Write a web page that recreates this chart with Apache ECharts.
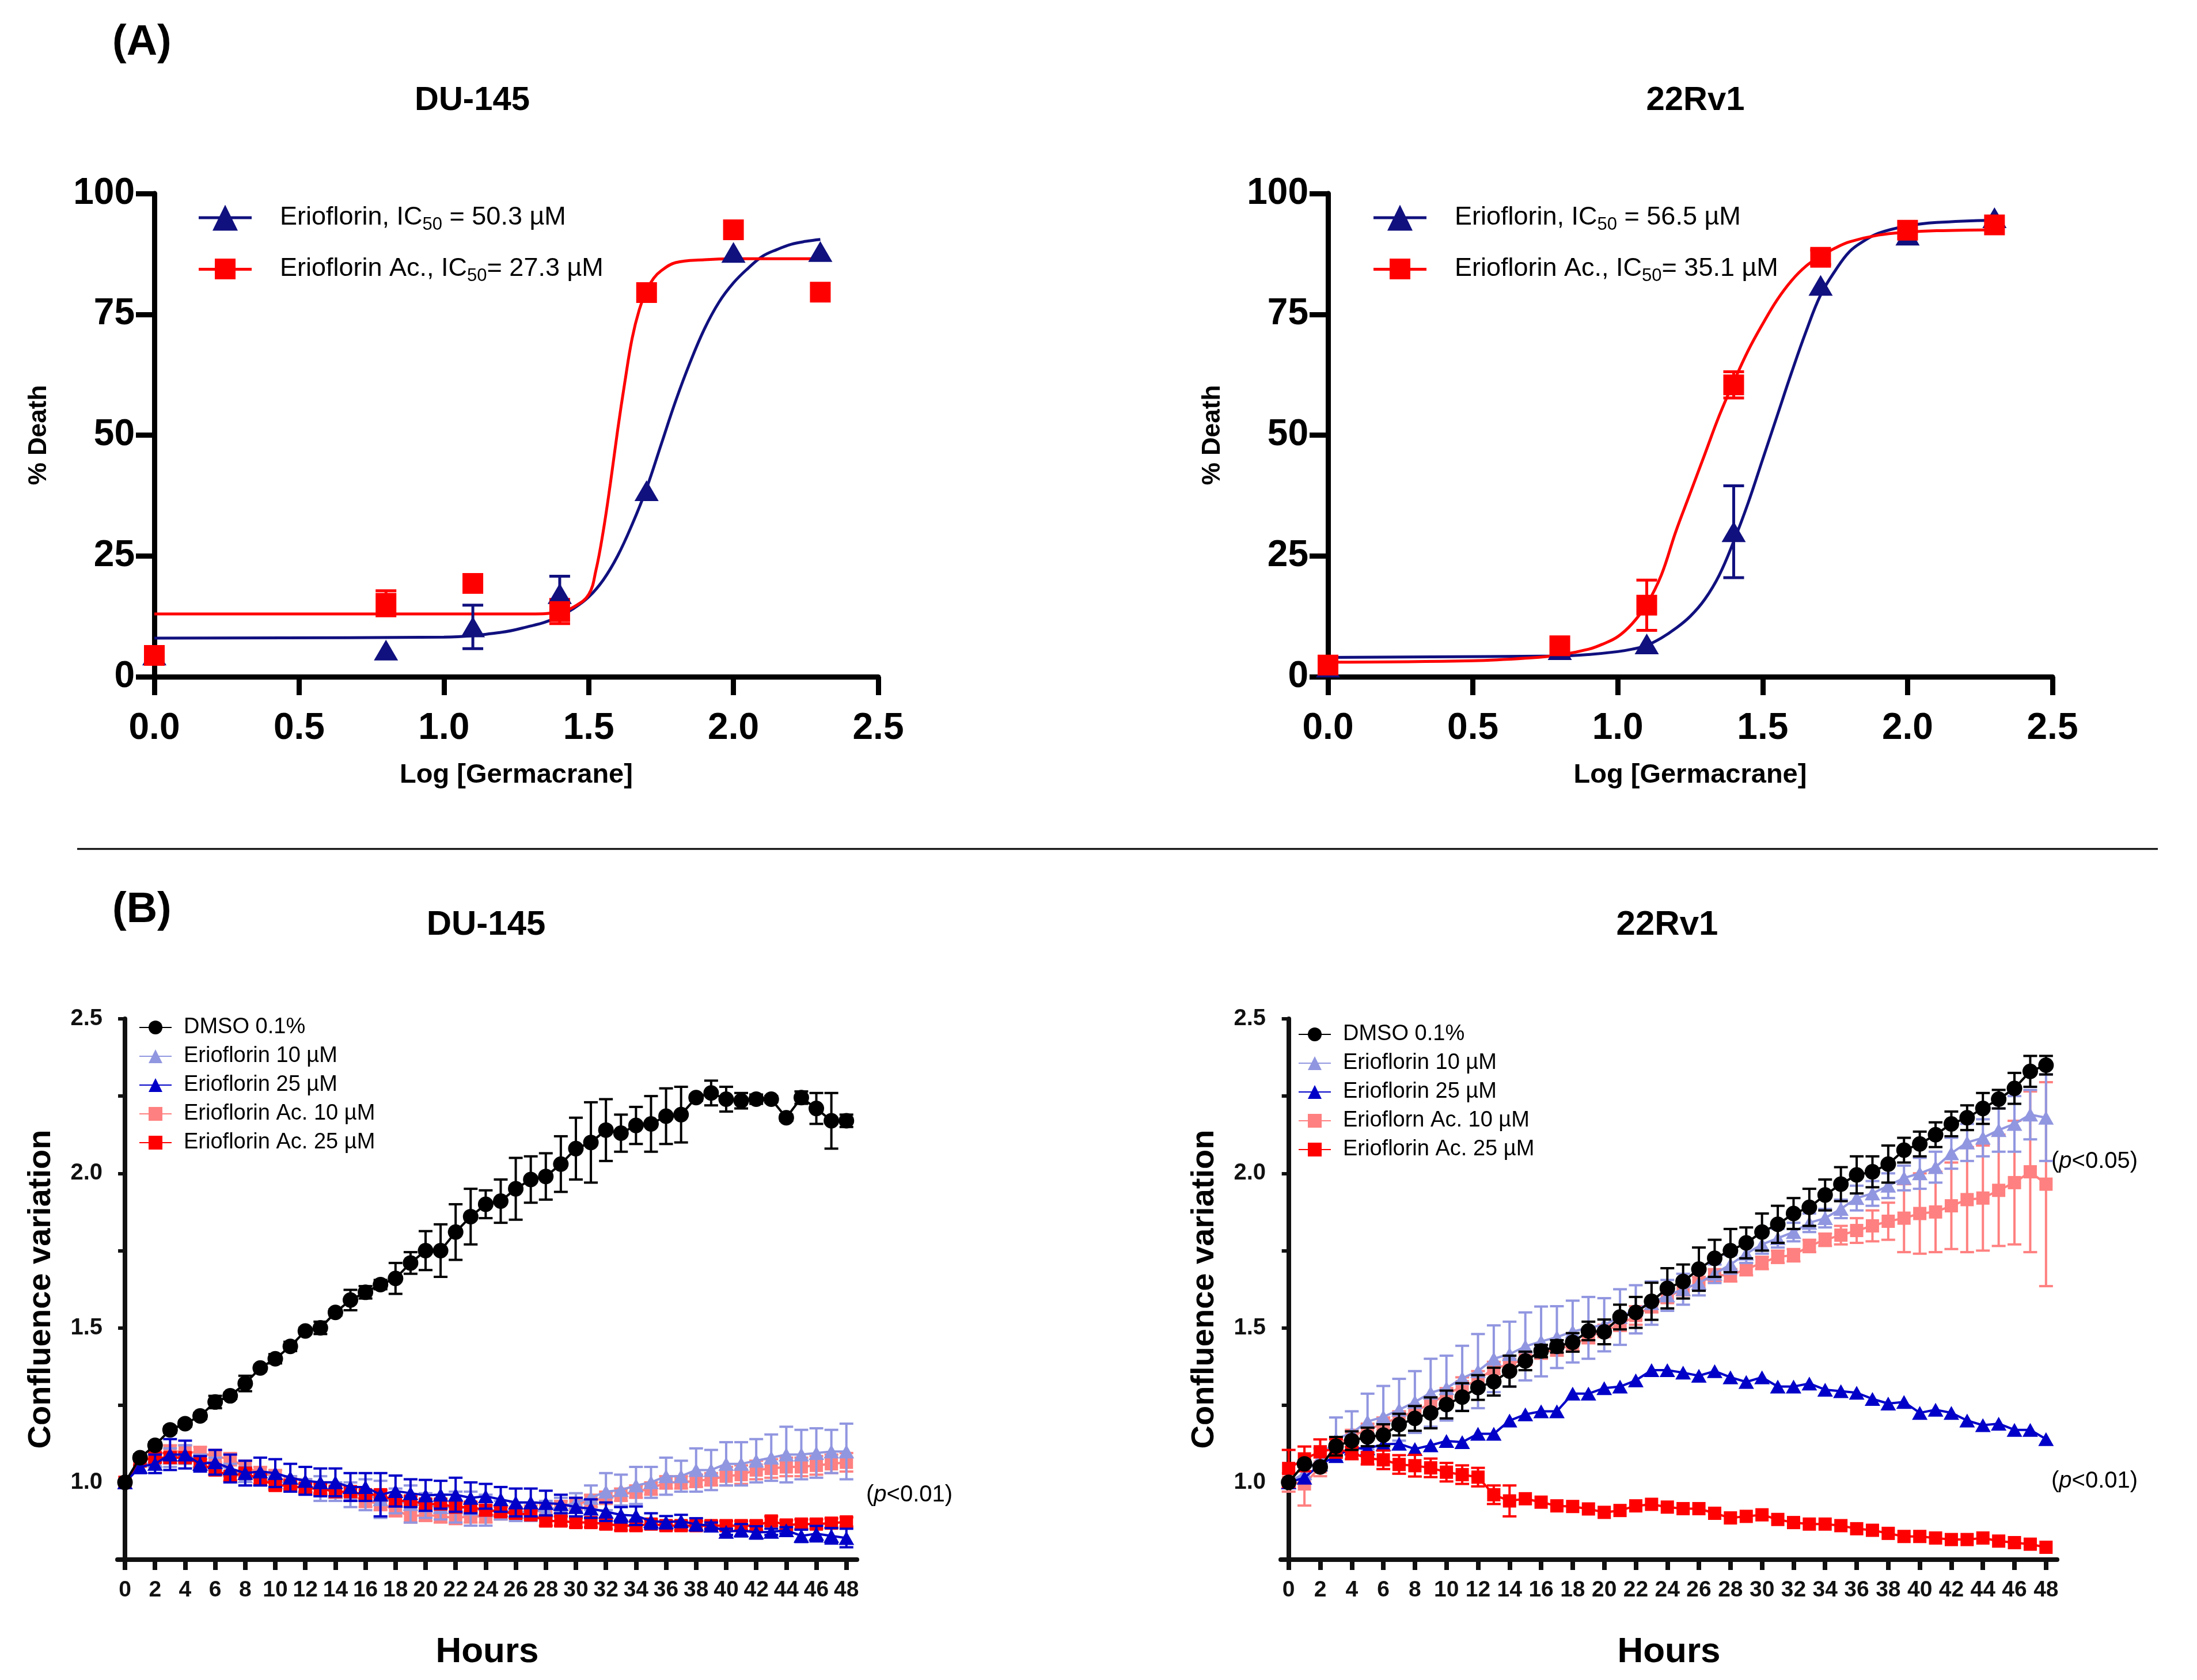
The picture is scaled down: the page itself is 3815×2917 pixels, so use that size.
<!DOCTYPE html>
<html>
<head>
<meta charset="utf-8">
<script src="https://cdn.jsdelivr.net/npm/echarts@6/dist/echarts.min.js"></script>
<style>
  html, body { margin: 0; padding: 0; background: #fff; }
  #main { width: 3815px; height: 2917px; }
</style>
</head>
<body>
<div id="main"></div>
<script>
// ---- panel A: dose response ----
var doseLog = [0, 0.8, 1.1, 1.4, 1.7, 2.0, 2.3];

var duEri = [4.5, 5.5, 10.3, 17.2, 38.5, 87.8, 88];
var duEriErr = [0, 0, 4.5, 3.6, 0, 0, 0];
var duAc = [4.4, 15.2, 19.3, 13.5, 79.5, 92.5, 79.6];
var duAcErr = [0, 2.6, 0, 2.5, 0, 0, 0];

var rvEri = [2, 5.6, 6.8, 30, 81, 91.4, 95];
var rvEriErr = [0, 0, 0, 9.5, 0, 0, 0];
var rvAc = [2.4, 6.4, 14.8, 60.4, 86.8, 92.4, 93.5];
var rvAcErr = [0, 0, 5.2, 2.7, 1.5, 0, 0];

// fitted curves
var duEriCurve = [[0, 8], [1.0, 8.2], [1.2, 9.2], [1.3, 10.5], [1.35, 11.3], [1.4, 12.5], [1.45, 14.2], [1.5, 16.5], [1.55, 20], [1.6, 25], [1.65, 31.5], [1.7, 39], [1.75, 48], [1.8, 57], [1.85, 65], [1.9, 72], [1.95, 77.5], [2.0, 81.5], [2.05, 84.5], [2.1, 87], [2.15, 88.4], [2.2, 89.5], [2.25, 90.1], [2.3, 90.5]];
var duAcCurve = [[0, 13], [1.3, 13], [1.4, 13.4], [1.45, 14.5], [1.5, 17], [1.525, 22], [1.55, 30], [1.575, 40], [1.6, 51], [1.625, 61], [1.65, 70], [1.675, 76], [1.7, 80], [1.725, 82.5], [1.75, 84], [1.8, 85.7], [1.9, 86.3], [2.0, 86.5], [2.3, 86.5]];
var rvEriCurve = [[0, 4], [0.8, 4.3], [0.9, 4.6], [1.0, 5.2], [1.05, 5.7], [1.1, 6.5], [1.15, 8], [1.2, 10], [1.25, 12.5], [1.3, 16], [1.35, 21], [1.4, 28], [1.45, 36], [1.5, 45], [1.55, 54], [1.6, 63], [1.65, 71.5], [1.7, 79], [1.75, 84], [1.8, 88], [1.85, 90.2], [1.9, 91.8], [2.0, 93.3], [2.1, 94], [2.3, 94.5]];
var rvAcCurve = [[0, 3], [0.5, 3.3], [0.7, 3.9], [0.8, 4.5], [0.9, 5.7], [0.95, 6.8], [1.0, 8.3], [1.05, 11], [1.1, 15], [1.15, 21], [1.2, 30], [1.25, 38], [1.3, 46], [1.35, 54], [1.4, 61], [1.45, 67.5], [1.5, 73], [1.55, 78], [1.6, 82], [1.65, 85], [1.7, 87], [1.75, 88.7], [1.8, 90], [1.9, 91.4], [2.0, 92], [2.1, 92.3], [2.3, 92.5]];

// ---- panel B: confluence over time ----
var hours = [0,1,2,3,4,5,6,7,8,9,10,11,12,13,14,15,16,17,18,19,20,21,22,23,24,25,26,27,28,29,30,31,32,33,34,35,36,37,38,39,40,41,42,43,44,45,46,47,48];
var hourTicks = [0,2,4,6,8,10,12,14,16,18,20,22,24,26,28,30,32,34,36,38,40,42,44,46,48];

// DU-145
var dmsoL = [1.00,1.08,1.12,1.17,1.19,1.215,1.26,1.28,1.32,1.37,1.40,1.44,1.49,1.50,1.55,1.59,1.615,1.64,1.66,1.71,1.75,1.75,1.81,1.86,1.90,1.91,1.95,1.98,1.99,2.03,2.08,2.10,2.14,2.13,2.155,2.16,2.185,2.19,2.245,2.26,2.24,2.235,2.24,2.24,2.18,2.245,2.21,2.17,2.17];
var dmsoLErr = [0,0.01,0.01,0.01,0.01,0.01,0.02,0.01,0.025,0.01,0.015,0.015,0.01,0.02,0.01,0.033,0.02,0.015,0.05,0.035,0.063,0.085,0.09,0.09,0.045,0.07,0.1,0.075,0.075,0.09,0.1,0.13,0.1,0.06,0.06,0.09,0.09,0.09,0.01,0.04,0.04,0.025,0.015,0.01,0.01,0.02,0.05,0.09,0.02];
var eri10L = [1.00,1.05,1.07,1.08,1.09,1.07,1.06,1.04,1.02,1.01,1.0,1.0,0.99,0.98,0.97,0.96,0.96,0.945,0.94,0.93,0.925,0.92,0.92,0.915,0.91,0.91,0.905,0.905,0.91,0.92,0.935,0.95,0.97,0.975,0.99,1.0,1.02,1.02,1.04,1.04,1.06,1.06,1.07,1.08,1.09,1.09,1.095,1.10,1.10];
var eri10LErr = [0,0.02,0.02,0.03,0.03,0.02,0.02,0.02,0.03,0.02,0.02,0.02,0.02,0.04,0.03,0.04,0.05,0.06,0.04,0.06,0.04,0.04,0.05,0.055,0.05,0.03,0.03,0.03,0.03,0.03,0.03,0.04,0.06,0.05,0.06,0.05,0.06,0.05,0.07,0.065,0.07,0.07,0.07,0.075,0.09,0.08,0.08,0.07,0.09];
var eri25L = [1.00,1.05,1.06,1.09,1.09,1.06,1.065,1.045,1.03,1.035,1.03,1.015,1.005,1.0,1.0,0.985,0.985,0.96,0.972,0.965,0.958,0.96,0.96,0.95,0.955,0.945,0.935,0.935,0.933,0.93,0.92,0.915,0.905,0.895,0.892,0.875,0.871,0.875,0.864,0.86,0.84,0.845,0.838,0.84,0.845,0.827,0.834,0.827,0.82];
var eri25LErr = [0,0.02,0.03,0.05,0.045,0.025,0.04,0.045,0.04,0.045,0.045,0.045,0.045,0.045,0.045,0.045,0.045,0.07,0.05,0.045,0.05,0.045,0.055,0.05,0.04,0.04,0.045,0.045,0.04,0.03,0.03,0.03,0.03,0.025,0.03,0.025,0.02,0.02,0.02,0.01,0.01,0.02,0.02,0.01,0.01,0.02,0.025,0.025,0.03];
var ac10L = [1.00,1.07,1.09,1.10,1.10,1.095,1.085,1.075,1.05,1.03,1.02,1.0,0.99,0.98,0.97,0.96,0.94,0.93,0.91,0.89,0.895,0.89,0.885,0.89,0.89,0.9,0.9,0.905,0.91,0.92,0.93,0.94,0.95,0.96,0.97,0.98,1.0,1.0,1.005,1.01,1.02,1.025,1.04,1.045,1.05,1.05,1.055,1.06,1.065];
var ac10LErr = [0,0.02,0.02,0.02,0.02,0.02,0.02,0.02,0.02,0.02,0.02,0.02,0.02,0.02,0.02,0.02,0.02,0.02,0.02,0.02,0.02,0.02,0.02,0.02,0.02,0.02,0.02,0.02,0.02,0.02,0.02,0.02,0.02,0.02,0.02,0.02,0.02,0.02,0.02,0.02,0.03,0.03,0.03,0.03,0.03,0.03,0.03,0.03,0.03];
var ac25L = [1.00,1.07,1.08,1.08,1.08,1.06,1.04,1.02,1.03,1.01,0.99,0.99,0.98,0.98,0.97,0.97,0.96,0.96,0.94,0.94,0.93,0.93,0.92,0.92,0.91,0.905,0.9,0.895,0.875,0.875,0.87,0.87,0.865,0.86,0.86,0.865,0.86,0.86,0.86,0.86,0.86,0.86,0.86,0.875,0.862,0.865,0.865,0.868,0.872];
var ac25LErr = [0,0.015,0.015,0.015,0.015,0.015,0.015,0.015,0.015,0.015,0.015,0.015,0.015,0.015,0.015,0.015,0.015,0.015,0.015,0.015,0.015,0.015,0.015,0.015,0.015,0.015,0.015,0.015,0.015,0.015,0.015,0.015,0.015,0.015,0.015,0.015,0.015,0.015,0.015,0.015,0.015,0.015,0.015,0.015,0.015,0.015,0.015,0.015,0.015];

// 22Rv1
var dmsoR = [1.00,1.06,1.05,1.117,1.135,1.147,1.153,1.187,1.207,1.225,1.252,1.276,1.307,1.326,1.36,1.393,1.425,1.44,1.453,1.49,1.487,1.535,1.55,1.586,1.628,1.65,1.69,1.725,1.75,1.775,1.81,1.835,1.87,1.89,1.93,1.965,1.995,2.005,2.03,2.075,2.095,2.125,2.16,2.18,2.21,2.24,2.275,2.33,2.35];
var dmsoRErr = [0,0.01,0.01,0.03,0.03,0.03,0.035,0.035,0.04,0.05,0.045,0.045,0.04,0.045,0.05,0.03,0.02,0.02,0.03,0.03,0.04,0.04,0.05,0.06,0.065,0.055,0.07,0.06,0.07,0.05,0.06,0.06,0.05,0.06,0.05,0.055,0.06,0.05,0.06,0.04,0.04,0.04,0.04,0.04,0.05,0.03,0.05,0.05,0.03];
var eri10R = [1.00,1.03,1.08,1.14,1.16,1.197,1.212,1.235,1.26,1.29,1.305,1.337,1.36,1.40,1.415,1.44,1.456,1.47,1.488,1.50,1.51,1.535,1.56,1.58,1.605,1.625,1.645,1.675,1.705,1.74,1.77,1.79,1.81,1.84,1.855,1.885,1.92,1.935,1.96,1.985,2.0,2.02,2.065,2.10,2.115,2.14,2.16,2.19,2.18];
var eri10RErr = [0,0.02,0.03,0.07,0.07,0.09,0.1,0.1,0.1,0.11,0.105,0.105,0.12,0.108,0.105,0.11,0.113,0.1,0.1,0.1,0.086,0.09,0.078,0.07,0.05,0.05,0.04,0.03,0.03,0.03,0.03,0.03,0.03,0.03,0.03,0.03,0.04,0.04,0.04,0.04,0.05,0.05,0.05,0.06,0.06,0.07,0.09,0.08,0.14];
var eri25R = [1.00,1.015,1.058,1.085,1.11,1.11,1.123,1.125,1.108,1.12,1.134,1.13,1.157,1.157,1.20,1.22,1.23,1.23,1.287,1.287,1.305,1.31,1.33,1.363,1.363,1.355,1.345,1.36,1.34,1.325,1.34,1.31,1.31,1.32,1.30,1.295,1.29,1.27,1.255,1.26,1.225,1.235,1.225,1.20,1.185,1.19,1.17,1.17,1.14];
var ac10R = [1.00,0.995,1.05,1.12,1.15,1.17,1.19,1.21,1.23,1.255,1.285,1.31,1.33,1.37,1.38,1.40,1.42,1.43,1.445,1.47,1.49,1.51,1.54,1.57,1.60,1.625,1.645,1.67,1.67,1.69,1.71,1.73,1.735,1.765,1.785,1.80,1.815,1.83,1.845,1.855,1.87,1.875,1.895,1.915,1.92,1.945,1.97,2.005,1.965];
var ac10RErr = [0.03,0.07,0.03,0.02,0.02,0.02,0.02,0.02,0.02,0.02,0.02,0.03,0.03,0.02,0.02,0.02,0.02,0.02,0.02,0.02,0.02,0.02,0.03,0.02,0.02,0.02,0.02,0.02,0.02,0.02,0.02,0.02,0.02,0.02,0.02,0.03,0.04,0.05,0.06,0.11,0.13,0.13,0.14,0.17,0.17,0.18,0.2,0.26,0.33];
var ac25R = [1.045,1.076,1.099,1.11,1.095,1.078,1.073,1.058,1.054,1.047,1.033,1.025,1.017,0.96,0.94,0.947,0.936,0.924,0.922,0.914,0.903,0.909,0.924,0.929,0.92,0.915,0.915,0.9,0.885,0.89,0.895,0.88,0.87,0.865,0.865,0.86,0.85,0.845,0.835,0.825,0.825,0.82,0.815,0.815,0.82,0.81,0.805,0.80,0.79];
var ac25RErr = [0.06,0.04,0.04,0.03,0.02,0.02,0.03,0.03,0.035,0.03,0.03,0.03,0.03,0.03,0.05,0,0,0,0,0,0,0,0,0,0,0,0,0,0,0,0,0,0,0,0,0,0,0,0,0,0,0,0,0,0,0,0,0,0];

var FONT = "'Liberation Sans', Arial, Helvetica, sans-serif";
var NAVY = '#10107f';
var RED = '#ff0000';
var BLACK = '#000000';
var LAV = '#9196e0';
var BLUE = '#0000c8';
var SALMON = '#ff8080';

var chartDom = document.getElementById('main');
var myChart = echarts.init(chartDom, null, { renderer: 'canvas' });

function pairs(xs, ys) {
  return xs.map(function (x, i) { return [x, ys[i]]; });
}
function errData(xs, ys, es) {
  var out = [];
  xs.forEach(function (x, i) {
    if (es[i] > 0) out.push([x, ys[i] - es[i], ys[i] + es[i]]);
  });
  return out;
}
function errorBar(capHalf, width) {
  return function (params, api) {
    var x = api.value(0);
    var lo = api.coord([x, api.value(1)]);
    var hi = api.coord([x, api.value(2)]);
    var st = { stroke: api.visual('color'), lineWidth: width };
    return {
      type: 'group',
      children: [
        { type: 'line', shape: { x1: lo[0], y1: lo[1], x2: hi[0], y2: hi[1] }, style: st },
        { type: 'line', shape: { x1: lo[0] - capHalf, y1: lo[1], x2: lo[0] + capHalf, y2: lo[1] }, style: st },
        { type: 'line', shape: { x1: hi[0] - capHalf, y1: hi[1], x2: hi[0] + capHalf, y2: hi[1] }, style: st }
      ]
    };
  };
}

// legend icons for panel A (line with marker in the middle)
var ICON_TRI = 'path://M0,20L92,20L92,25L0,25Z M46,0L68,45L24,45Z';
var ICON_SQ = 'path://M0,20L92,20L92,25L0,25Z M28,4L64,4L64,40L28,40Z';

function axisA(isX) {
  return {
    type: 'value',
    min: 0,
    max: isX ? 2.5 : 100,
    interval: isX ? 0.5 : 25,
    axisLine: { show: true, lineStyle: { color: '#000', width: 9 } },
    axisTick: { show: true, length: 32, lineStyle: { color: '#000', width: 9 } },
    axisLabel: {
      color: '#000', fontFamily: FONT, fontWeight: 'bold', fontSize: 64,
      margin: isX ? 58 : 34,
      formatter: isX ? function (v) { return v.toFixed(1); } : null
    },
    splitLine: { show: false }
  };
}
function axisBx() {
  return {
    type: 'value', min: -0.5, max: 48.7,
    axisLine: { show: true, lineStyle: { color: '#111', width: 8 } },
    axisTick: { show: true, length: 18, customValues: hourTicks, lineStyle: { color: '#111', width: 8 } },
    axisLabel: { color: '#111', fontFamily: FONT, fontWeight: 'bold', fontSize: 39, margin: 34, customValues: hourTicks },
    splitLine: { show: false },
    name: 'Hours', nameLocation: 'middle', nameGap: 130,
    nameTextStyle: { color: '#000', fontFamily: FONT, fontWeight: 'bold', fontSize: 62 }
  };
}
function axisBy() {
  return {
    type: 'value', min: 0.75, max: 2.5, interval: 0.25,
    axisLine: { show: true, lineStyle: { color: '#111', width: 8 } },
    axisTick: { show: true, length: 12, lineStyle: { color: '#111', width: 6 } },
    axisLabel: {
      color: '#111', fontFamily: FONT, fontWeight: 'bold', fontSize: 40, margin: 26,
      formatter: function (v) { return Math.round(v * 100) % 50 === 0 ? v.toFixed(1) : ''; }
    },
    splitLine: { show: false },
    name: 'Confluence variation', nameLocation: 'middle', nameGap: 104,
    nameTextStyle: { color: '#000', fontFamily: FONT, fontWeight: 'bold', fontSize: 56 }
  };
}

var xAxes = [axisA(true), axisA(true), axisBx(), axisBx()];
var yAxes = [axisA(false), axisA(false), axisBy(), axisBy()];
[0, 1].forEach(function (i) {
  xAxes[i].name = 'Log [Germacrane]';
  xAxes[i].nameLocation = 'middle';
  xAxes[i].nameGap = 148;
  xAxes[i].nameTextStyle = { color: '#000', fontFamily: FONT, fontWeight: 'bold', fontSize: 47 };
  yAxes[i].name = '% Death';
  yAxes[i].nameLocation = 'middle';
  yAxes[i].nameGap = 178;
  yAxes[i].nameTextStyle = { color: '#000', fontFamily: FONT, fontWeight: 'bold', fontSize: 44 };
});
xAxes.forEach(function (a, i) { a.gridIndex = i; });
yAxes.forEach(function (a, i) { a.gridIndex = i; });

var series = [];

// panel A series
function addDose(g, curve, xs, ys, es, name, color, symbol, size) {
  series.push({
    type: 'line', name: name + ' fit', xAxisIndex: g, yAxisIndex: g,
    data: curve, smooth: 0.4, symbol: 'none',
    lineStyle: { color: color, width: 5 }, z: 2
  });
  series.push({
    type: 'custom', name: name + ' err', xAxisIndex: g, yAxisIndex: g,
    data: errData(xs, ys, es), renderItem: errorBar(18, 5),
    itemStyle: { color: color }, encode: { x: 0, y: [1, 2] }, z: 3
  });
  series.push({
    type: 'scatter', name: name, xAxisIndex: g, yAxisIndex: g,
    data: pairs(xs, ys), symbol: symbol, symbolSize: size,
    itemStyle: { color: color, opacity: 1 }, z: 4
  });
}
var nDuEri = 'Erioflorin, IC50 = 50.3 µM';
var nDuAc = 'Erioflorin Ac., IC50= 27.3 µM';
var nRvEri = 'Erioflorin, IC50 = 56.5 µM';
var nRvAc = 'Erioflorin Ac., IC50= 35.1 µM';
addDose(0, duEriCurve, doseLog, duEri, duEriErr, nDuEri, NAVY, 'triangle', [42, 36]);
addDose(0, duAcCurve, doseLog, duAc, duAcErr, nDuAc, RED, 'rect', 36);
addDose(1, rvEriCurve, doseLog, rvEri, rvEriErr, nRvEri, NAVY, 'triangle', [42, 36]);
addDose(1, rvAcCurve, doseLog, rvAc, rvAcErr, nRvAc, RED, 'rect', 36);

// panel B series
function addTime(g, ys, es, name, color, symbol, size, z) {
  if (es) {
    series.push({
      type: 'custom', name: name + ' err' + g, xAxisIndex: g, yAxisIndex: g,
      data: errData(hours, ys, es), renderItem: errorBar(12, 4),
      itemStyle: { color: color }, encode: { x: 0, y: [1, 2] }, z: z
    });
  }
  series.push({
    type: 'line', name: name, xAxisIndex: g, yAxisIndex: g,
    data: pairs(hours, ys), symbol: symbol, symbolSize: size,
    lineStyle: { color: color, width: 4 }, itemStyle: { color: color, opacity: 1 }, z: z
  });
}
addTime(2, ac10L, ac10LErr, 'Erioflorin Ac. 10 µM', SALMON, 'rect', 23, 3);
addTime(2, eri10L, eri10LErr, 'Erioflorin 10 µM', LAV, 'triangle', [27, 24], 4);
addTime(2, ac25L, ac25LErr, 'Erioflorin Ac. 25 µM', RED, 'rect', 23, 5);
addTime(2, eri25L, eri25LErr, 'Erioflorin 25 µM', BLUE, 'triangle', [27, 24], 6);
addTime(2, dmsoL, dmsoLErr, 'DMSO 0.1%', BLACK, 'circle', 27, 7);

addTime(3, ac10R, ac10RErr, 'Erioflorn Ac. 10 µM', SALMON, 'rect', 23, 3);
addTime(3, eri10R, eri10RErr, 'Erioflorin 10 µM', LAV, 'triangle', [27, 24], 4);
addTime(3, eri25R, null, 'Erioflorin 25 µM', BLUE, 'triangle', [27, 24], 5);
addTime(3, ac25R, ac25RErr, 'Erioflorin Ac. 25 µM', RED, 'rect', 23, 6);
addTime(3, dmsoR, dmsoRErr, 'DMSO 0.1%', BLACK, 'circle', 27, 7);

function legendA(left, names) {
  return {
    orient: 'vertical', left: left, top: 345,
    itemWidth: 92, itemHeight: 45, itemGap: 33, selectedMode: false,
    data: [{ name: names[0], icon: ICON_TRI }, { name: names[1], icon: ICON_SQ }],
    formatter: function (n) { return n.replace('IC50', 'IC{sub|50}'); },
    textStyle: {
      color: '#000', fontFamily: FONT, fontSize: 45, lineHeight: 56, padding: [0, 0, 0, 44],
      rich: { sub: { fontFamily: FONT, fontSize: 31, lineHeight: 31, color: '#000', verticalAlign: 'bottom' } }
    }
  };
}
function legendB(left, top, names) {
  return {
    orient: 'vertical', left: left, top: top,
    itemWidth: 56, itemHeight: 30, itemGap: 12, selectedMode: false,
    data: names,
    textStyle: { color: '#000', fontFamily: FONT, fontSize: 38, lineHeight: 30, padding: [0, 0, 0, 16] }
  };
}

function txt(x, y, text, size, bold, align) {
  return {
    type: 'text', x: x, y: y,
    style: {
      text: text, fill: '#000', fontFamily: FONT, fontSize: size,
      fontWeight: bold ? 'bold' : 'normal',
      align: align || 'center', textAlign: align || 'center',
      verticalAlign: 'middle', textVerticalAlign: 'middle'
    }
  };
}
function pTxt(x, y, text) {
  return {
    type: 'text', x: x, y: y,
    style: {
      text: text, fill: '#000', fontFamily: FONT, fontSize: 40,
      align: 'left', verticalAlign: 'middle',
      rich: { i: { fontFamily: FONT, fontSize: 40, fontStyle: 'italic', fill: '#000' } }
    }
  };
}

var option = {
  animation: false,
  backgroundColor: '#fff',
  grid: [
    { left: 268, top: 336, width: 1257, height: 839 },
    { left: 2306, top: 336, width: 1258, height: 839 },
    { left: 204, top: 1769, width: 1284, height: 939 },
    { left: 2224, top: 1769, width: 1348, height: 939 }
  ],
  xAxis: xAxes,
  yAxis: yAxes,
  legend: [
    legendA(340, [nDuEri, nDuAc]),
    legendA(2380, [nRvEri, nRvAc]),
    legendB(236, 1760, ['DMSO 0.1%', 'Erioflorin 10 µM', 'Erioflorin 25 µM', 'Erioflorin Ac. 10 µM', 'Erioflorin Ac. 25 µM']),
    legendB(2249, 1772, ['DMSO 0.1%', 'Erioflorin 10 µM', 'Erioflorin 25 µM', 'Erioflorn Ac. 10 µM', 'Erioflorin Ac. 25 µM'])
  ],
  graphic: [
    txt(195, 75, '(A)', 74, true, 'left'),
    txt(195, 1581, '(B)', 74, true, 'left'),
    txt(820, 175, 'DU-145', 58, true),
    txt(2944, 175, '22Rv1', 58, true),
    txt(844, 1606, 'DU-145', 60, true),
    txt(2895, 1606, '22Rv1', 60, true),
    { type: 'line', shape: { x1: 134, y1: 1474, x2: 3747, y2: 1474 }, style: { stroke: '#000', lineWidth: 3 } },
    pTxt(1504, 2596, '({i|p}<0.01)'),
    pTxt(3562, 2017, '({i|p}<0.05)'),
    pTxt(3562, 2572, '({i|p}<0.01)')
  ],
  series: series
};

myChart.setOption(option);
</script>
</body>
</html>
